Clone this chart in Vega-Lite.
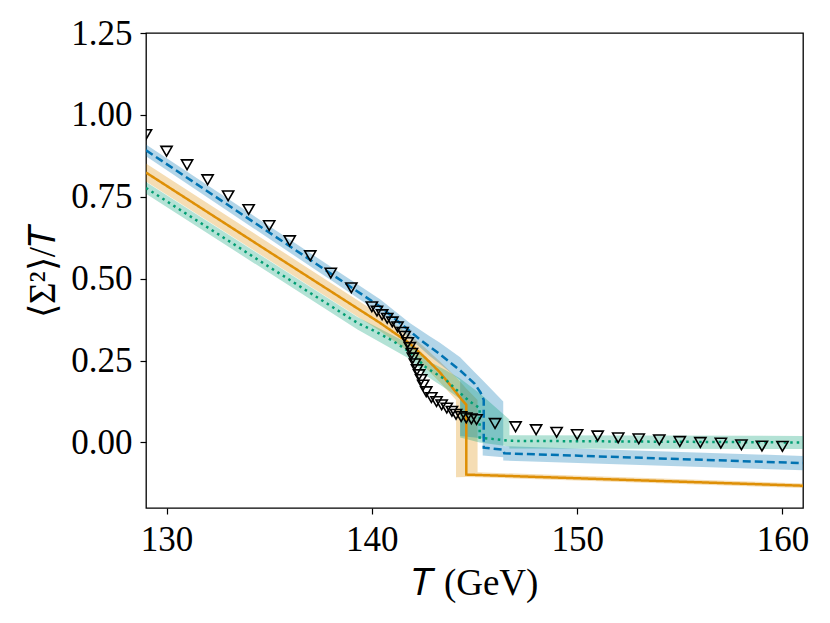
{
  "$schema": "https://vega.github.io/schema/vega-lite/v6.json",
  "width": 657,
  "height": 475,
  "autosize": {"type": "none"},
  "padding": {"left": 146, "top": 33, "right": 27, "bottom": 115},
  "background": "white",
  "config": {
    "view": {"stroke": "black", "strokeWidth": 1.3},
    "axis": {
      "grid": false,
      "domain": false,
      "tickColor": "black",
      "tickSize": 6,
      "tickWidth": 1.2,
      "labelFont": "Liberation Serif",
      "labelFontSize": 35,
      "labelColor": "black",
      "labelPadding": 8,
      "titleFont": "Liberation Serif",
      "titleFontSize": 37,
      "titleFontWeight": "normal",
      "titleColor": "black"
    }
  },
  "datasets": {
    "bands": [
      {"model": "orange", "T": 129, "lo": 0.797, "hi": 0.852},
      {"model": "orange", "T": 140.4, "lo": 0.34, "hi": 0.39},
      {"model": "orange", "T": 141.85, "lo": 0.275, "hi": 0.33},
      {"model": "orange", "T": 142.66, "lo": 0.225, "hi": 0.285},
      {"model": "orange", "T": 143.3, "lo": 0.185, "hi": 0.248},
      {"model": "orange", "T": 144.1, "lo": 0.13, "hi": 0.2},
      {"model": "orange", "T": 144.1, "lo": -0.106, "hi": 0.2},
      {"model": "orange", "T": 144.6, "lo": -0.105, "hi": 0.165},
      {"model": "orange", "T": 145.15, "lo": -0.106, "hi": 0.13},
      {"model": "orange", "T": 145.15, "lo": -0.106, "hi": -0.091},
      {"model": "orange", "T": 161, "lo": -0.139, "hi": -0.125},
      {"model": "blue", "T": 129, "lo": 0.874, "hi": 0.91},
      {"model": "blue", "T": 140.4, "lo": 0.395, "hi": 0.437},
      {"model": "blue", "T": 141.85, "lo": 0.318, "hi": 0.365},
      {"model": "blue", "T": 142.8, "lo": 0.265, "hi": 0.325},
      {"model": "blue", "T": 143.3, "lo": 0.24, "hi": 0.305},
      {"model": "blue", "T": 144.3, "lo": 0.19, "hi": 0.26},
      {"model": "blue", "T": 144.3, "lo": 0.02, "hi": 0.26},
      {"model": "blue", "T": 145.0, "lo": 0.015, "hi": 0.215},
      {"model": "blue", "T": 145.4, "lo": 0.012, "hi": 0.19},
      {"model": "blue", "T": 145.4, "lo": -0.04, "hi": 0.19},
      {"model": "blue", "T": 146.4, "lo": -0.045, "hi": 0.125},
      {"model": "blue", "T": 146.4, "lo": -0.055, "hi": -0.011},
      {"model": "blue", "T": 161, "lo": -0.085, "hi": -0.041},
      {"model": "green", "T": 129, "lo": 0.759, "hi": 0.795},
      {"model": "green", "T": 139.3, "lo": 0.345, "hi": 0.383},
      {"model": "green", "T": 141.85, "lo": 0.255, "hi": 0.3},
      {"model": "green", "T": 142.66, "lo": 0.203, "hi": 0.252},
      {"model": "green", "T": 143.63, "lo": 0.163, "hi": 0.22},
      {"model": "green", "T": 144.3, "lo": 0.133, "hi": 0.195},
      {"model": "green", "T": 144.3, "lo": 0.015, "hi": 0.195},
      {"model": "green", "T": 145.25, "lo": 0.0, "hi": 0.15},
      {"model": "green", "T": 146.7, "lo": -0.012, "hi": 0.07},
      {"model": "green", "T": 146.7, "lo": -0.018, "hi": 0.022},
      {"model": "green", "T": 161, "lo": -0.02, "hi": 0.02}
    ],
    "lines": [
      {"model": "orange", "i": 1, "T": 129, "y": 0.824},
      {"model": "orange", "i": 2, "T": 135, "y": 0.582},
      {"model": "orange", "i": 3, "T": 140.4, "y": 0.365},
      {"model": "orange", "i": 4, "T": 141.85, "y": 0.302},
      {"model": "orange", "i": 5, "T": 142.66, "y": 0.255},
      {"model": "orange", "i": 6, "T": 143.3, "y": 0.215},
      {"model": "orange", "i": 7, "T": 143.95, "y": 0.165},
      {"model": "orange", "i": 8, "T": 144.36, "y": 0.132},
      {"model": "orange", "i": 9, "T": 144.6, "y": 0.115},
      {"model": "orange", "i": 10, "T": 144.6, "y": -0.098},
      {"model": "orange", "i": 11, "T": 161, "y": -0.132},
      {"model": "blue", "i": 1, "T": 129, "y": 0.892},
      {"model": "blue", "i": 2, "T": 135, "y": 0.641},
      {"model": "blue", "i": 3, "T": 140.4, "y": 0.415},
      {"model": "blue", "i": 4, "T": 141.85, "y": 0.34},
      {"model": "blue", "i": 5, "T": 142.33, "y": 0.315},
      {"model": "blue", "i": 6, "T": 142.8, "y": 0.293},
      {"model": "blue", "i": 7, "T": 143.3, "y": 0.27},
      {"model": "blue", "i": 8, "T": 144.3, "y": 0.22},
      {"model": "blue", "i": 9, "T": 145.0, "y": 0.18},
      {"model": "blue", "i": 10, "T": 145.3, "y": 0.152},
      {"model": "blue", "i": 11, "T": 145.45, "y": 0.13},
      {"model": "blue", "i": 12, "T": 145.45, "y": -0.016},
      {"model": "blue", "i": 13, "T": 146.4, "y": -0.022},
      {"model": "blue", "i": 14, "T": 146.45, "y": -0.033},
      {"model": "blue", "i": 15, "T": 161, "y": -0.063},
      {"model": "green", "i": 1, "T": 129, "y": 0.777},
      {"model": "green", "i": 2, "T": 135, "y": 0.536},
      {"model": "green", "i": 3, "T": 139.3, "y": 0.365},
      {"model": "green", "i": 4, "T": 140.2, "y": 0.338},
      {"model": "green", "i": 5, "T": 141.03, "y": 0.31},
      {"model": "green", "i": 6, "T": 141.85, "y": 0.276},
      {"model": "green", "i": 7, "T": 142.66, "y": 0.228},
      {"model": "green", "i": 8, "T": 143.63, "y": 0.19},
      {"model": "green", "i": 9, "T": 144.12, "y": 0.161},
      {"model": "green", "i": 10, "T": 144.77, "y": 0.125},
      {"model": "green", "i": 11, "T": 145.25, "y": 0.105},
      {"model": "green", "i": 12, "T": 145.25, "y": 0.015},
      {"model": "green", "i": 13, "T": 146.7, "y": 0.005},
      {"model": "green", "i": 14, "T": 161, "y": 0.0}
    ],
    "points": [
      {"T": 129, "y": 0.94},
      {"T": 130, "y": 0.889},
      {"T": 131, "y": 0.848},
      {"T": 132, "y": 0.802},
      {"T": 133, "y": 0.753},
      {"T": 134, "y": 0.711},
      {"T": 135, "y": 0.662},
      {"T": 136, "y": 0.616},
      {"T": 137, "y": 0.57},
      {"T": 138, "y": 0.517},
      {"T": 139, "y": 0.472},
      {"T": 140.0, "y": 0.414},
      {"T": 140.25, "y": 0.401},
      {"T": 140.5, "y": 0.39},
      {"T": 140.75, "y": 0.379},
      {"T": 141.0, "y": 0.368},
      {"T": 141.25, "y": 0.353},
      {"T": 141.5, "y": 0.336},
      {"T": 141.6, "y": 0.324},
      {"T": 141.75, "y": 0.305},
      {"T": 141.85, "y": 0.29},
      {"T": 141.95, "y": 0.272},
      {"T": 142.0, "y": 0.258},
      {"T": 142.1, "y": 0.24},
      {"T": 142.2, "y": 0.222},
      {"T": 142.3, "y": 0.207},
      {"T": 142.4, "y": 0.192},
      {"T": 142.5, "y": 0.175},
      {"T": 142.65, "y": 0.155},
      {"T": 142.9, "y": 0.137},
      {"T": 143.15, "y": 0.125},
      {"T": 143.4, "y": 0.115},
      {"T": 143.65, "y": 0.105},
      {"T": 143.9, "y": 0.095},
      {"T": 144.1, "y": 0.086},
      {"T": 144.35, "y": 0.079},
      {"T": 144.6, "y": 0.075},
      {"T": 144.85, "y": 0.072},
      {"T": 145.1, "y": 0.07},
      {"T": 146, "y": 0.058},
      {"T": 147, "y": 0.048},
      {"T": 148, "y": 0.039},
      {"T": 149, "y": 0.031},
      {"T": 150, "y": 0.024},
      {"T": 151, "y": 0.02},
      {"T": 152, "y": 0.014},
      {"T": 153, "y": 0.011},
      {"T": 154, "y": 0.008},
      {"T": 155, "y": 0.003},
      {"T": 156, "y": 0.0},
      {"T": 157, "y": -0.002},
      {"T": 158, "y": -0.007},
      {"T": 159, "y": -0.011},
      {"T": 160, "y": -0.012}
    ]
  },
  "layer": [
    {
      "data": {"name": "bands"},
      "mark": {"type": "area", "fillOpacity": 0.3, "clip": true},
      "encoding": {
        "x": {
          "field": "T",
          "type": "quantitative",
          "scale": {"domain": [129, 161], "nice": false, "zero": false},
          "axis": {"values": [130, 140, 150, 160], "title": "𝑇 (GeV)", "titlePadding": 8}
        },
        "y": {
          "field": "lo",
          "type": "quantitative",
          "scale": {"domain": [-0.2, 1.25], "nice": false, "zero": false},
          "axis": {"values": [0, 0.25, 0.5, 0.75, 1, 1.25], "format": ".2f", "title": "⟨Σ²⟩/𝑇", "titlePadding": 8}
        },
        "y2": {"field": "hi"},
        "color": {
          "field": "model",
          "type": "nominal",
          "scale": {"domain": ["blue", "orange", "green"], "range": ["#0173B2", "#DE8F05", "#029E73"]},
          "legend": null
        }
      }
    },
    {
      "data": {"name": "lines"},
      "mark": {"type": "line", "strokeWidth": 2.5, "clip": true},
      "encoding": {
        "x": {"field": "T", "type": "quantitative"},
        "y": {"field": "y", "type": "quantitative"},
        "color": {"field": "model", "type": "nominal", "legend": null},
        "strokeDash": {
          "field": "model",
          "type": "nominal",
          "scale": {"domain": ["blue", "orange", "green"], "range": [[8, 4], [1, 0], [2.5, 4]]},
          "legend": null
        },
        "order": {"field": "i"}
      }
    },
    {
      "data": {"name": "points"},
      "mark": {"type": "point", "shape": "triangle-down", "filled": false, "stroke": "black", "strokeWidth": 1.6, "size": 125, "opacity": 1, "clip": true},
      "encoding": {
        "x": {"field": "T", "type": "quantitative"},
        "y": {"field": "y", "type": "quantitative"}
      }
    }
  ]
}
